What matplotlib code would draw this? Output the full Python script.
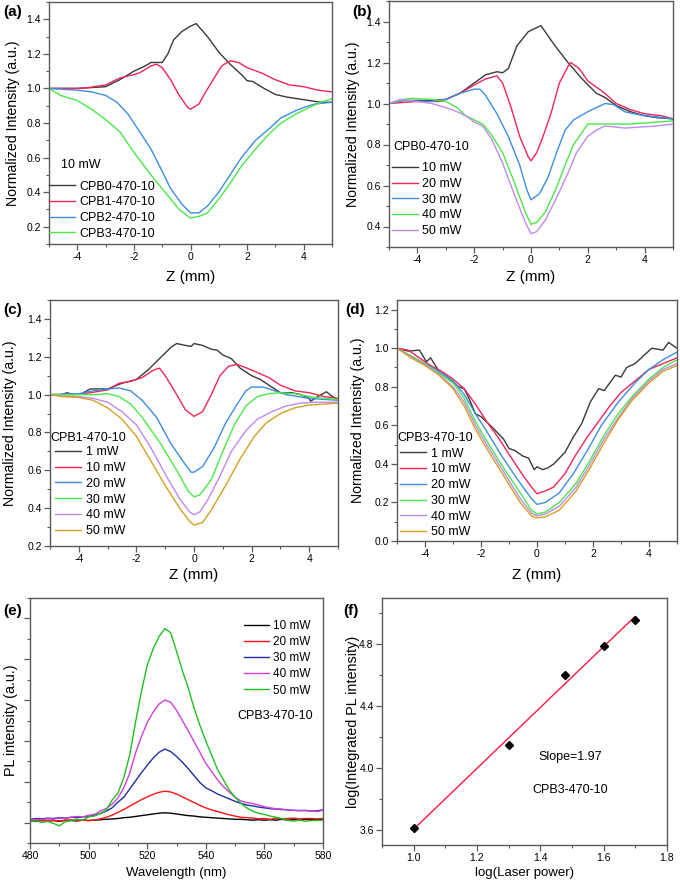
import numpy as np
import matplotlib
matplotlib.use("Agg")
import matplotlib.pyplot as plt
from matplotlib.ticker import MultipleLocator, NullFormatter, FormatStrFormatter

plt.rcParams['font.family'] = ['Liberation Sans', 'DejaVu Sans']
plt.rcParams['axes.unicode_minus'] = False

# ---------------- data ----------------
# (a) 10 mW, different samples
a_z0 = [-5, -4, -3, -2.5, -2, -1.6, -1.4, -1.0, -0.8, -0.6, -0.3, 0, 0.2, 0.6, 1.0, 1.4, 1.8, 2.0, 2.2, 2.6, 3.0, 3.4, 3.8, 4.2, 4.6, 5]
a_y0 = [1.0, 1.0, 1.01, 1.05, 1.10, 1.13, 1.15, 1.15, 1.20, 1.28, 1.33, 1.36, 1.375, 1.30, 1.21, 1.14, 1.08, 1.045, 1.04, 1.0, 0.965, 0.95, 0.94, 0.93, 0.92, 0.92]
a_z1 = [-5, -4, -3.6, -3, -2.5, -2, -1.8, -1.4, -1.2, -1.0, -0.7, -0.4, -0.1, 0, 0.3, 0.5, 0.8, 1.1, 1.4, 1.7, 2.0, 2.5, 3.0, 3.5, 4.0, 4.5, 5]
a_y1 = [1.0, 1.0, 1.005, 1.02, 1.06, 1.08, 1.09, 1.13, 1.14, 1.12, 1.05, 0.96, 0.89, 0.88, 0.91, 0.97, 1.05, 1.13, 1.16, 1.15, 1.12, 1.09, 1.05, 1.02, 1.01, 0.99, 0.98]
a_z2 = [-5, -4.5, -4, -3.5, -3, -2.6, -2.2, -1.8, -1.4, -1.0, -0.7, -0.3, 0, 0.3, 0.6, 1.0, 1.4, 1.8, 2.3, 2.8, 3.2, 3.7, 4.0, 4.4, 5]
a_y2 = [1.0, 0.995, 0.99, 0.98, 0.96, 0.92, 0.85, 0.75, 0.65, 0.52, 0.42, 0.33, 0.28, 0.28, 0.32, 0.40, 0.50, 0.60, 0.70, 0.77, 0.83, 0.87, 0.89, 0.91, 0.92]
a_z3 = [-5, -4.6, -4, -3.5, -3, -2.5, -2.0, -1.4, -0.8, -0.4, 0, 0.3, 0.6, 1.0, 1.4, 1.8, 2.3, 2.8, 3.2, 3.7, 4.2, 4.6, 5]
a_y3 = [1.0, 0.96, 0.93, 0.88, 0.82, 0.75, 0.63, 0.50, 0.38, 0.30, 0.25, 0.26, 0.28, 0.36, 0.45, 0.55, 0.65, 0.74, 0.80, 0.85, 0.89, 0.92, 0.94]
a_labels = ['CPB0-470-10', 'CPB1-470-10', 'CPB2-470-10', 'CPB3-470-10']

# (b) CPB0-470-10, power series
b_z10 = [-5, -4.5, -4, -3.5, -3, -2.5, -2, -1.6, -1.2, -1.0, -0.8, -0.5, -0.1, 0.35, 0.8, 1.3, 1.8, 2.3, 2.6, 3.0, 3.5, 4.0, 4.5, 5]
b_y10 = [1.0, 1.015, 1.015, 1.015, 1.02, 1.05, 1.10, 1.14, 1.155, 1.15, 1.17, 1.28, 1.35, 1.38, 1.29, 1.20, 1.12, 1.05, 1.03, 0.99, 0.96, 0.94, 0.93, 0.925]
b_z20 = [-5, -4, -3.2, -3, -2.5, -2, -1.6, -1.2, -1.0, -0.7, -0.4, -0.1, 0, 0.2, 0.4, 0.7, 1.0, 1.3, 1.4, 1.7, 2.0, 2.6, 3.0, 3.5, 4.0, 4.6, 5]
b_y20 = [1.0, 1.01, 1.01, 1.02, 1.05, 1.09, 1.12, 1.135, 1.10, 0.98, 0.84, 0.74, 0.72, 0.76, 0.83, 0.95, 1.10, 1.18, 1.20, 1.17, 1.11, 1.05, 1.0, 0.97, 0.95, 0.94, 0.925]
b_z30 = [-5, -4.5, -4, -3.5, -3, -2.5, -2.0, -1.8, -1.6, -1.2, -0.8, -0.4, -0.15, 0, 0.3, 0.6, 0.9, 1.2, 1.5, 2.0, 2.3, 2.6, 2.9, 3.3, 3.8, 4.4, 5]
b_y30 = [1.0, 1.015, 1.01, 1.01, 1.02, 1.05, 1.07, 1.07, 1.04, 0.95, 0.84, 0.70, 0.58, 0.53, 0.56, 0.64, 0.76, 0.87, 0.92, 0.96, 0.98, 1.0, 0.995, 0.96, 0.945, 0.935, 0.925]
b_z40 = [-5, -4.5, -4.2, -3.5, -3, -2.6, -2.3, -2.0, -1.7, -1.4, -1.0, -0.6, -0.2, 0, 0.2, 0.5, 0.9, 1.2, 1.5, 1.8, 2.0, 2.5, 3.0, 3.5, 4.0, 4.5, 5]
b_y40 = [1.0, 1.02, 1.025, 1.02, 1.01, 0.98, 0.94, 0.92, 0.90, 0.85, 0.76, 0.62, 0.47, 0.41, 0.42, 0.47, 0.59, 0.70, 0.80, 0.86, 0.90, 0.90, 0.90, 0.90, 0.905, 0.91, 0.915]
b_z50 = [-5, -4.6, -4, -3.5, -3, -2.6, -2.3, -2.0, -1.7, -1.4, -1.0, -0.6, -0.2, 0, 0.2, 0.5, 0.9, 1.3, 1.6, 2.0, 2.3, 2.6, 3.0, 3.3, 3.8, 4.4, 5]
b_y50 = [1.0, 1.02, 1.01, 1.0, 0.98, 0.96, 0.94, 0.91, 0.89, 0.83, 0.71, 0.56, 0.42, 0.365, 0.375, 0.43, 0.54, 0.66, 0.76, 0.84, 0.87, 0.89, 0.885, 0.88, 0.885, 0.89, 0.90]
b_labels = ['10 mW', '20 mW', '30 mW', '40 mW', '50 mW']

# (c) CPB1-470-10
c_z1 = [-5, -4.6, -4.4, -4.2, -3.9, -3.6, -3.0, -2.5, -2.0, -1.6, -1.2, -0.8, -0.6, -0.3, -0.1, 0, 0.3, 0.6, 0.8, 1.0, 1.3, 1.6, 2.0, 2.3, 2.7, 3.0, 3.4, 3.7, 4.0, 4.05, 4.3, 4.6, 4.8, 5]
c_y1 = [1.0, 1.0, 1.01, 1.0, 1.005, 1.03, 1.03, 1.06, 1.08, 1.13, 1.19, 1.25, 1.27, 1.26, 1.255, 1.27, 1.26, 1.24, 1.235, 1.21, 1.19, 1.14, 1.10, 1.08, 1.04, 1.01, 1.01, 1.0, 0.98, 0.965, 0.99, 1.015, 0.99, 0.975]
c_z10 = [-5, -4.2, -3.6, -3.0, -2.6, -2.2, -1.8, -1.4, -1.2, -1.0, -0.6, -0.3, 0, 0.3, 0.6, 0.9, 1.2, 1.5, 2.0, 2.6, 3.0, 3.5, 4.0, 4.5, 5]
c_y10 = [1.0, 1.0, 1.01, 1.025, 1.06, 1.07, 1.09, 1.13, 1.14, 1.10, 1.0, 0.92, 0.885, 0.91, 1.0, 1.10, 1.15, 1.16, 1.13, 1.09, 1.05, 1.02, 1.01, 0.99, 0.98]
c_z20 = [-5, -4, -3.5, -3.0, -2.6, -2.2, -1.8, -1.3, -0.8, -0.3, -0.1, 0, 0.3, 0.7, 1.1, 1.5, 1.8, 2.0, 2.4, 2.8, 3.2, 3.6, 4.0, 4.5, 5]
c_y20 = [1.0, 1.005, 1.02, 1.03, 1.035, 1.02, 0.97, 0.88, 0.74, 0.63, 0.59, 0.59, 0.62, 0.72, 0.85, 0.95, 1.02, 1.04, 1.04, 1.02, 1.0, 0.99, 0.98, 0.975, 0.97]
c_z30 = [-5, -4, -3.4, -3.0, -2.6, -2.2, -1.8, -1.2, -0.6, -0.2, 0, 0.2, 0.6, 1.0, 1.4, 1.8, 2.2, 2.6, 3.0, 3.5, 4.0, 4.5, 5]
c_y30 = [1.0, 1.0, 1.0, 1.005, 0.99, 0.95, 0.88, 0.75, 0.60, 0.49, 0.46, 0.47, 0.55, 0.70, 0.84, 0.94, 0.99, 1.005, 1.01, 1.005, 0.99, 0.98, 0.975]
c_z40 = [-5, -4.4, -4, -3.5, -3.0, -2.5, -2.0, -1.5, -1.0, -0.5, -0.15, 0, 0.2, 0.5, 0.9, 1.3, 1.8, 2.2, 2.7, 3.2, 3.7, 4.2, 5]
c_y40 = [1.0, 0.99, 0.99, 0.98, 0.96, 0.91, 0.84, 0.72, 0.58, 0.45, 0.38, 0.365, 0.38, 0.45, 0.57, 0.70, 0.81, 0.87, 0.91, 0.94, 0.955, 0.96, 0.96]
c_z50 = [-5, -4.6, -4, -3.5, -3.0, -2.5, -2.0, -1.5, -1.0, -0.5, -0.15, 0, 0.3, 0.6, 1.1, 1.6, 2.1, 2.5, 3.0, 3.5, 4.0, 4.5, 5]
c_y50 = [1.0, 0.99, 0.985, 0.97, 0.93, 0.87, 0.78, 0.65, 0.52, 0.40, 0.33, 0.31, 0.325, 0.39, 0.52, 0.66, 0.78, 0.85, 0.90, 0.93, 0.945, 0.95, 0.955]
cd_labels = ['1 mW', '10 mW', '20 mW', '30 mW', '40 mW', '50 mW']

# (d) CPB3-470-10
d_z1 = [-5, -4.6, -4.2, -3.95, -3.8, -3.5, -3.2, -2.8, -2.6, -2.4, -2.2, -2.0, -1.6, -1.2, -1.0, -0.8, -0.5, -0.3, -0.1, 0, 0.2, 0.4, 0.6, 1.0, 1.3, 1.6, 1.9, 2.2, 2.4, 2.6, 2.8, 3.0, 3.2, 3.5, 3.8, 4.1, 4.5, 4.7, 5]
d_y1 = [1.0, 0.985, 0.99, 0.93, 0.95, 0.88, 0.85, 0.80, 0.79, 0.73, 0.66, 0.645, 0.59, 0.53, 0.48, 0.47, 0.44, 0.43, 0.37, 0.385, 0.37, 0.38, 0.40, 0.46, 0.54, 0.61, 0.72, 0.79, 0.78, 0.82, 0.86, 0.85, 0.90, 0.92, 0.96, 1.0, 0.99, 1.03, 1.0]
d_z10 = [-5, -4.6, -4.2, -3.8, -3.4, -3.0, -2.6, -2.2, -1.8, -1.4, -1.0, -0.5, -0.2, 0, 0.3, 0.6, 1.0, 1.4, 1.8, 2.2, 2.6, 3.0, 3.5, 4.0, 4.5, 5]
d_y10 = [1.0, 0.99, 0.95, 0.91, 0.88, 0.84, 0.79, 0.71, 0.62, 0.54, 0.45, 0.34, 0.28, 0.245, 0.26, 0.28, 0.35, 0.45, 0.54, 0.62, 0.70, 0.77, 0.83, 0.89, 0.92, 0.95]
d_z20 = [-5, -4.5, -4, -3.5, -3.0, -2.6, -2.2, -1.8, -1.3, -0.7, -0.2, 0, 0.3, 0.8, 1.3, 1.8, 2.3, 2.9, 3.5, 4.0, 4.5, 5]
d_y20 = [1.0, 0.96, 0.92, 0.88, 0.83, 0.76, 0.66, 0.57, 0.45, 0.32, 0.22, 0.19, 0.20, 0.25, 0.35, 0.47, 0.60, 0.72, 0.82, 0.89, 0.94, 0.98]
d_z30 = [-5, -4.5, -4, -3.5, -3.0, -2.6, -2.2, -1.8, -1.2, -0.6, -0.2, 0, 0.3, 0.8, 1.4, 1.9, 2.4, 2.9, 3.4, 4.0, 4.5, 5]
d_y30 = [1.0, 0.96, 0.92, 0.87, 0.82, 0.74, 0.62, 0.52, 0.38, 0.25, 0.16, 0.14, 0.15, 0.20, 0.30, 0.42, 0.55, 0.66, 0.75, 0.84, 0.90, 0.94]
d_z40 = [-5, -4.5, -4, -3.5, -3.0, -2.6, -2.2, -1.8, -1.2, -0.6, -0.2, 0, 0.3, 0.8, 1.4, 1.9, 2.4, 2.9, 3.4, 4.0, 4.5, 5]
d_y40 = [1.0, 0.955, 0.915, 0.865, 0.80, 0.72, 0.60, 0.50, 0.36, 0.22, 0.145, 0.13, 0.14, 0.18, 0.28, 0.40, 0.53, 0.64, 0.74, 0.83, 0.89, 0.92]
d_z50 = [-5, -4.5, -4, -3.5, -3.0, -2.6, -2.2, -1.8, -1.2, -0.6, -0.2, 0, 0.3, 0.8, 1.4, 1.9, 2.4, 2.9, 3.4, 4.0, 4.5, 5]
d_y50 = [1.0, 0.95, 0.91, 0.86, 0.79, 0.70, 0.58, 0.48, 0.34, 0.20, 0.13, 0.12, 0.125, 0.16, 0.26, 0.38, 0.51, 0.63, 0.73, 0.82, 0.88, 0.91]

# (e) PL spectra, CPB3-470-10 (wavelength every 2 nm, 480-580)
wl = list(range(480, 581, 2))
pl_10 = [0.05, 0.03, 0.06, 0.04, 0.05, 0.03, 0.06, 0.05, 0.04, 0.06,
         0.05, 0.06, 0.07, 0.08, 0.09, 0.10, 0.12, 0.13, 0.15, 0.17,
         0.19, 0.21, 0.23, 0.24, 0.23, 0.21, 0.19, 0.17, 0.16, 0.14,
         0.13, 0.12, 0.11, 0.10, 0.09, 0.08, 0.08, 0.07, 0.06, 0.07,
         0.06, 0.07, 0.06, 0.08, 0.06, 0.07, 0.06, 0.08, 0.07, 0.07,
         0.08]
pl_20 = [0.03, 0.05, 0.04, 0.06, 0.05, 0.04, 0.05, 0.07, 0.05, 0.06,
         0.05, 0.06, 0.09, 0.13, 0.18, 0.25, 0.32, 0.40, 0.48, 0.56,
         0.63, 0.69, 0.74, 0.77, 0.75, 0.70, 0.63, 0.56, 0.49, 0.42,
         0.36, 0.31, 0.27, 0.23, 0.19, 0.16, 0.13, 0.12, 0.11, 0.09,
         0.10, 0.08, 0.11, 0.09, 0.10, 0.11, 0.09, 0.10, 0.10, 0.09,
         0.10]
pl_30 = [0.08, 0.10, 0.09, 0.11, 0.10, 0.12, 0.11, 0.13, 0.12, 0.14,
         0.15, 0.18, 0.22, 0.28, 0.36, 0.50, 0.62, 0.82, 1.02, 1.22,
         1.40, 1.58, 1.72, 1.80, 1.74, 1.62, 1.48, 1.32, 1.15, 0.98,
         0.85, 0.78, 0.70, 0.64, 0.58, 0.52, 0.47, 0.43, 0.41, 0.38,
         0.36, 0.34, 0.33, 0.32, 0.31, 0.30, 0.29, 0.30, 0.28, 0.29,
         0.31]
pl_40 = [0.06, 0.08, 0.07, 0.10, 0.08, 0.11, 0.10, 0.13, 0.15, 0.14,
         0.18, 0.20, 0.28, 0.34, 0.45, 0.60, 0.85, 1.20, 1.70, 2.10,
         2.45, 2.70, 2.90, 3.00, 2.95, 2.75, 2.50, 2.25, 1.98, 1.72,
         1.45, 1.25, 1.05, 0.88, 0.75, 0.62, 0.53, 0.49, 0.47, 0.43,
         0.39, 0.36, 0.34, 0.33, 0.31, 0.30, 0.30, 0.29, 0.28, 0.27,
         0.30]
pl_50 = [0.03, 0.05, 0.00, 0.03, -0.02, -0.08, 0.02, 0.05, 0.08, 0.06,
         0.14, 0.16, 0.22, 0.30, 0.55, 0.72, 1.10, 1.65, 2.45, 3.20,
         3.85, 4.25, 4.55, 4.75, 4.65, 4.20, 3.72, 3.30, 2.80, 2.38,
         2.00, 1.65, 1.30, 1.05, 0.80, 0.62, 0.47, 0.36, 0.28, 0.23,
         0.20, 0.16, 0.13, 0.10, 0.05, 0.04, 0.06, 0.03, 0.05, 0.05,
         0.06]
e_labels = ['10 mW', '20 mW', '30 mW', '40 mW', '50 mW']

# (f) log-log power dependence
log_power = [1.0, 1.301, 1.477, 1.602, 1.699]
log_pl = [3.61, 4.15, 4.60, 4.79, 4.96]

# ---------------- styling ----------------
W, H = 680, 882
fig = plt.figure(figsize=(W / 100, H / 100), dpi=100)

C_BLK = '#3a3a3a'
C_RED = '#f2245a'
C_BLU = '#3d8ee0'
C_GRN = '#4ae84a'
C_PUR = '#c08af0'
C_GLD = '#d6a020'
SPINE = '#5a5a5a'

TICK_FS = 7.5
XLBL_FS = 11
YLBL_FS = 10.2
LEG_FS = 9


def add_ax(l, t, r, b):
    return fig.add_axes([l / W, 1 - b / H, (r - l) / W, (b - t) / H])


def style(ax, xmaj, xmin, ymaj, ymin, lblfs=TICK_FS, ylabels=True):
    for s in ax.spines.values():
        s.set_color(SPINE)
        s.set_linewidth(1.0)
    ax.xaxis.set_major_locator(MultipleLocator(xmaj))
    ax.xaxis.set_minor_locator(MultipleLocator(xmin))
    ax.yaxis.set_major_locator(MultipleLocator(ymaj))
    ax.yaxis.set_minor_locator(MultipleLocator(ymin))
    ax.tick_params(which='both', direction='out', color=SPINE, top=False, right=False,
                   labelsize=lblfs, pad=2)
    ax.tick_params(which='major', length=4, width=0.9)
    ax.tick_params(which='minor', length=2.5, width=0.8)
    if not ylabels:
        ax.yaxis.set_major_formatter(NullFormatter())


def labels(ax, xl, yl, xpos, ypos, xfs=XLBL_FS, yfs=YLBL_FS):
    ax.set_xlabel(xl, fontsize=xfs)
    ax.set_ylabel(yl, fontsize=yfs)
    ax.xaxis.set_label_coords(0.5, xpos)
    ax.yaxis.set_label_coords(ypos, 0.5)
    ax.xaxis.label.set_verticalalignment('center')
    ax.yaxis.label.set_verticalalignment('center')


def leg(ax, x, y, fs=LEG_FS, spacing=0.3, hl=2.1):
    ax.legend(loc='upper left', bbox_to_anchor=(x, y), frameon=False, fontsize=fs,
              borderpad=0, borderaxespad=0, handlelength=hl, handletextpad=0.35,
              labelspacing=spacing)


def panel_letter(x, y, s):
    fig.text(x / W, 1 - y / H, s, fontsize=11, fontweight='bold', ha='left', va='center')


# (a)
ax = add_ax(49, 2, 332, 244)
for z, y, c, lab in zip([a_z0, a_z1, a_z2, a_z3], [a_y0, a_y1, a_y2, a_y3],
                        [C_BLK, C_RED, C_BLU, C_GRN], a_labels):
    ax.plot(z, y, color=c, lw=1.0, label=lab)
ax.set_xlim(-5, 5)
ax.set_ylim(0.1, 1.5)
style(ax, 2, 1, 0.2, 0.1)
labels(ax, 'Z (mm)', 'Normalized Intensity (a.u.)', -0.136, -0.127)
ax.text(0.042, 0.326, '10 mW', transform=ax.transAxes, fontsize=LEG_FS, va='center', ha='left')
leg(ax, 0.0, 0.262)
panel_letter(3, 12, '(a)')

# (b)
ax = add_ax(389, 1, 673, 247)
for z, y, c, lab in zip([b_z10, b_z20, b_z30, b_z40, b_z50], [b_y10, b_y20, b_y30, b_y40, b_y50],
                        [C_BLK, C_RED, C_BLU, C_GRN, C_PUR], b_labels):
    ax.plot(z, y, color=c, lw=1.0, label=lab)
ax.set_xlim(-5, 5)
ax.set_ylim(0.3, 1.5)
style(ax, 2, 1, 0.2, 0.1)
labels(ax, 'Z (mm)', 'Normalized Intensity (a.u.)', -0.122, -0.127)
ax.text(0.014, 0.407, 'CPB0-470-10', transform=ax.transAxes, fontsize=LEG_FS, va='center', ha='left')
leg(ax, 0.01, 0.345)
panel_letter(352, 12, '(b)')

# (c)
ax = add_ax(50, 300, 338, 546)
for z, y, c, lab in zip([c_z1, c_z10, c_z20, c_z30, c_z40, c_z50],
                        [c_y1, c_y10, c_y20, c_y30, c_y40, c_y50],
                        [C_BLK, C_RED, C_BLU, C_GRN, C_PUR, C_GLD], cd_labels):
    ax.plot(z, y, color=c, lw=1.0, label=lab)
ax.set_xlim(-5, 5)
ax.set_ylim(0.2, 1.5)
style(ax, 2, 1, 0.2, 0.1)
labels(ax, 'Z (mm)', 'Normalized Intensity (a.u.)', -0.118, -0.138)
ax.text(0.0, 0.439, 'CPB1-470-10', transform=ax.transAxes, fontsize=LEG_FS, va='center', ha='left')
leg(ax, 0.017, 0.405)
panel_letter(3, 310, '(c)')

# (d)
ax = add_ax(397, 300, 677, 541)
for z, y, c, lab in zip([d_z1, d_z10, d_z20, d_z30, d_z40, d_z50],
                        [d_y1, d_y10, d_y20, d_y30, d_y40, d_y50],
                        [C_BLK, C_RED, C_BLU, C_GRN, C_PUR, C_GLD], cd_labels):
    ax.plot(z, y, color=c, lw=1.0, label=lab)
ax.set_xlim(-5, 5)
ax.set_ylim(0, 1.25)
style(ax, 2, 1, 0.2, 0.1)
labels(ax, 'Z (mm)', 'Normalized Intensity (a.u.)', -0.141, -0.139)
ax.text(0.0, 0.427, 'CPB3-470-10', transform=ax.transAxes, fontsize=LEG_FS, va='center', ha='left')
leg(ax, 0.011, 0.387)
panel_letter(345, 310, '(d)')

# (e)
ax = add_ax(30, 598, 323, 843)
for y, c, lab in zip([pl_10, pl_20, pl_30, pl_40, pl_50],
                     ['#000000', '#ff1010', '#2030a0', '#d040d8', '#20c020'], e_labels):
    ax.plot(wl, y, color=c, lw=1.0, label=lab)
ax.set_xlim(480, 580)
ax.set_ylim(-0.5, 5.5)
style(ax, 20, 10, 1, 0.5, ylabels=False)
labels(ax, 'Wavelength (nm)', 'PL intensity (a.u.)', -0.122, -0.065, xfs=9.5, yfs=10.4)
leg(ax, 0.73, 0.91, fs=8.5, spacing=0.35)
ax.text(0.836, 0.518, 'CPB3-470-10', transform=ax.transAxes, fontsize=9, va='center', ha='center')
panel_letter(3, 611, '(e)')

# (f)
ax = add_ax(382, 598, 667, 845)
coef = np.polyfit(log_power, log_pl, 1)
xf = np.array([log_power[0], log_power[-1]])
ax.plot(xf, np.polyval(coef, xf), color='#ff1744', lw=1.0, zorder=2)
ax.plot(log_power, log_pl, linestyle='none', marker='D', color='black', ms=4.5, zorder=3)
ax.set_xlim(0.9, 1.8)
ax.set_ylim(3.5, 5.1)
style(ax, 0.2, 0.1, 0.4, 0.2)
ax.xaxis.set_major_formatter(FormatStrFormatter('%.1f'))
ax.yaxis.set_major_formatter(FormatStrFormatter('%.1f'))
labels(ax, 'log(Laser power)', 'log(Integrated PL intensity)', -0.113, -0.10, xfs=9.5, yfs=10.4)
ax.text(0.66, 0.356, 'Slope=1.97', transform=ax.transAxes, fontsize=9, va='center', ha='center')
ax.text(0.66, 0.223, 'CPB3-470-10', transform=ax.transAxes, fontsize=9, va='center', ha='center')
panel_letter(343, 611, '(f)')

fig.savefig('out.png', dpi=100)
